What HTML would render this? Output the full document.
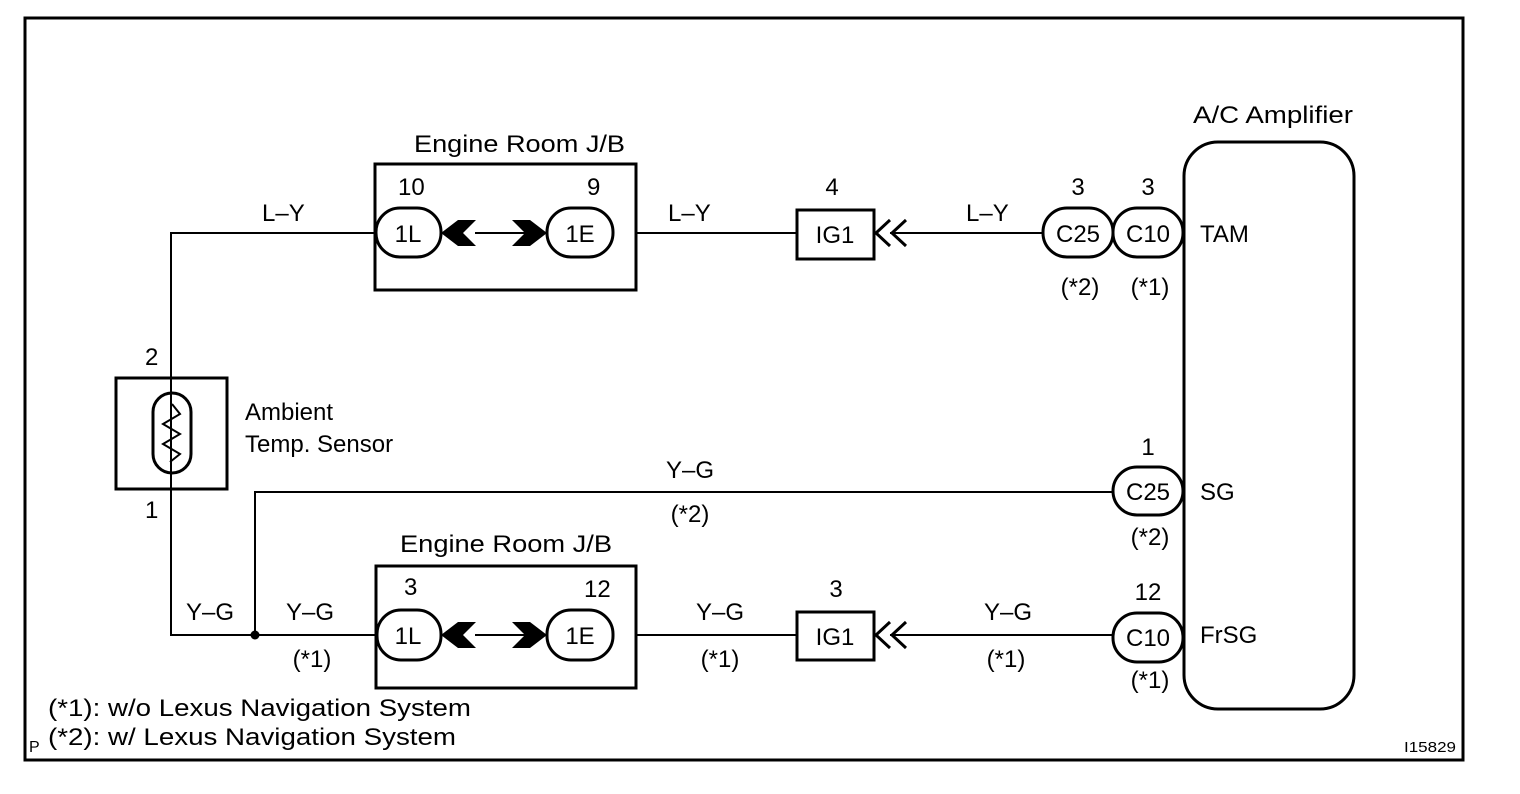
<!DOCTYPE html>
<html><head><meta charset="utf-8"><style>
html,body{margin:0;padding:0;background:#fff;}
svg{display:block;}
text{font-family:"Liberation Sans",Arial,sans-serif;font-size:24px;fill:#000;}
</style></head><body>
<svg width="1520" height="794" viewBox="0 0 1520 794" xmlns="http://www.w3.org/2000/svg">
<rect x="0" y="0" width="1520" height="794" fill="#fff"/>
<rect x="25" y="18" width="1438" height="742" fill="none" stroke="#000" stroke-width="3"/>
<g fill="none" stroke="#000" stroke-width="2">
<!-- wires -->
<polyline points="375,233 171,233 171,635 376,635"/>
<polyline points="255,635 255,492 1113,492"/>
<line x1="547" y1="233" x2="475" y2="233"/>
<line x1="636" y1="233" x2="797" y2="233"/>
<line x1="890" y1="233" x2="1043" y2="233"/>
<line x1="547" y1="635" x2="475" y2="635"/>
<line x1="636" y1="635" x2="797" y2="635"/>
<line x1="890" y1="635" x2="1113" y2="635"/>
</g>
<g fill="none" stroke="#000" stroke-width="3">
<rect x="375" y="164" width="261" height="126"/>
<rect x="376" y="566" width="260" height="122"/>
<rect x="116" y="378" width="111" height="111"/>
<rect x="153" y="393" width="38" height="80" rx="19"/>
<rect x="797" y="210" width="77" height="49"/>
<rect x="797" y="612" width="77" height="48"/>
<rect x="1184" y="142" width="170" height="567" rx="34"/>
<rect x="376" y="208" width="65" height="49" rx="24"/>
<rect x="547" y="208" width="66" height="49" rx="24"/>
<rect x="377" y="610" width="64" height="50" rx="24"/>
<rect x="547" y="610" width="66" height="50" rx="24"/>
<rect x="1043" y="208" width="70" height="49" rx="24"/>
<rect x="1113" y="208" width="70" height="49" rx="24"/>
<rect x="1113" y="467" width="70" height="48" rx="24"/>
<rect x="1113" y="613" width="70" height="49" rx="24"/>
<polyline points="890,220 876,233 890,246"/>
<polyline points="906,220 892,233 906,246"/>
<polyline points="890,622 876,635 890,648"/>
<polyline points="906,622 892,635 906,648"/>
</g>
<g fill="none" stroke="#000" stroke-width="2">
<line x1="171" y1="393" x2="171" y2="473"/>
<polyline points="171,400 171,407 180,414 163,423 180,432 163,441 180,450 163,459 171,463 171,473" stroke="#fff" stroke-width="0"/>
<polyline points="172,404 180,414 163,424 180,434 163,444 180,454 170,462" />
</g>
<g fill="#000">
<polygon points="441,233 458,220 476,220 463,233 476,246 458,246"/>
<polygon points="547,233 530,220 512,220 525,233 512,246 530,246"/>
<polygon points="441,635 458,622 476,622 463,635 476,648 458,648"/>
<polygon points="547,635 530,622 512,622 525,635 512,648 530,648"/>
<circle cx="255" cy="635" r="4.5"/>
</g>
<g>
<text x="414" y="152" textLength="211" lengthAdjust="spacingAndGlyphs">Engine Room J/B</text>
<text x="400" y="552" textLength="212" lengthAdjust="spacingAndGlyphs">Engine Room J/B</text>
<text x="1193" y="123" textLength="160" lengthAdjust="spacingAndGlyphs">A/C Amplifier</text>
<text x="262" y="221">L–Y</text>
<text x="668" y="221">L–Y</text>
<text x="966" y="221">L–Y</text>
<text x="398" y="195">10</text>
<text x="587" y="195">9</text>
<text x="832" y="195" text-anchor="middle">4</text>
<text x="1078" y="195" text-anchor="middle">3</text>
<text x="1148" y="195" text-anchor="middle">3</text>
<text x="408" y="242" text-anchor="middle">1L</text>
<text x="580" y="242" text-anchor="middle">1E</text>
<text x="835" y="243" text-anchor="middle">IG1</text>
<text x="1078" y="242" text-anchor="middle">C25</text>
<text x="1148" y="242" text-anchor="middle">C10</text>
<text x="1200" y="242">TAM</text>
<text x="1080" y="295" text-anchor="middle">(*2)</text>
<text x="1150" y="295" text-anchor="middle">(*1)</text>
<text x="145" y="365">2</text>
<text x="145" y="518">1</text>
<text x="245" y="420">Ambient</text>
<text x="245" y="452">Temp. Sensor</text>
<text x="690" y="478" text-anchor="middle">Y–G</text>
<text x="690" y="522" text-anchor="middle">(*2)</text>
<text x="1148" y="455" text-anchor="middle">1</text>
<text x="1148" y="500" text-anchor="middle">C25</text>
<text x="1200" y="500">SG</text>
<text x="1150" y="545" text-anchor="middle">(*2)</text>
<text x="186" y="620">Y–G</text>
<text x="286" y="620">Y–G</text>
<text x="312" y="667" text-anchor="middle">(*1)</text>
<text x="404" y="595">3</text>
<text x="584" y="597">12</text>
<text x="408" y="644" text-anchor="middle">1L</text>
<text x="580" y="644" text-anchor="middle">1E</text>
<text x="720" y="620" text-anchor="middle">Y–G</text>
<text x="720" y="667" text-anchor="middle">(*1)</text>
<text x="836" y="597" text-anchor="middle">3</text>
<text x="835" y="645" text-anchor="middle">IG1</text>
<text x="1008" y="620" text-anchor="middle">Y–G</text>
<text x="1006" y="667" text-anchor="middle">(*1)</text>
<text x="1148" y="600" text-anchor="middle">12</text>
<text x="1148" y="646" text-anchor="middle">C10</text>
<text x="1200" y="643">FrSG</text>
<text x="1150" y="688" text-anchor="middle">(*1)</text>
<text x="48" y="716" textLength="423" lengthAdjust="spacingAndGlyphs">(*1): w/o Lexus Navigation System</text>
<text x="48" y="745" textLength="408" lengthAdjust="spacingAndGlyphs">(*2): w/ Lexus Navigation System</text>
<text x="29" y="752" style="font-size:16px">P</text>
<text x="1404" y="752" style="font-size:15px" textLength="52" lengthAdjust="spacingAndGlyphs">I15829</text>
</g>
</svg>
</body></html>
